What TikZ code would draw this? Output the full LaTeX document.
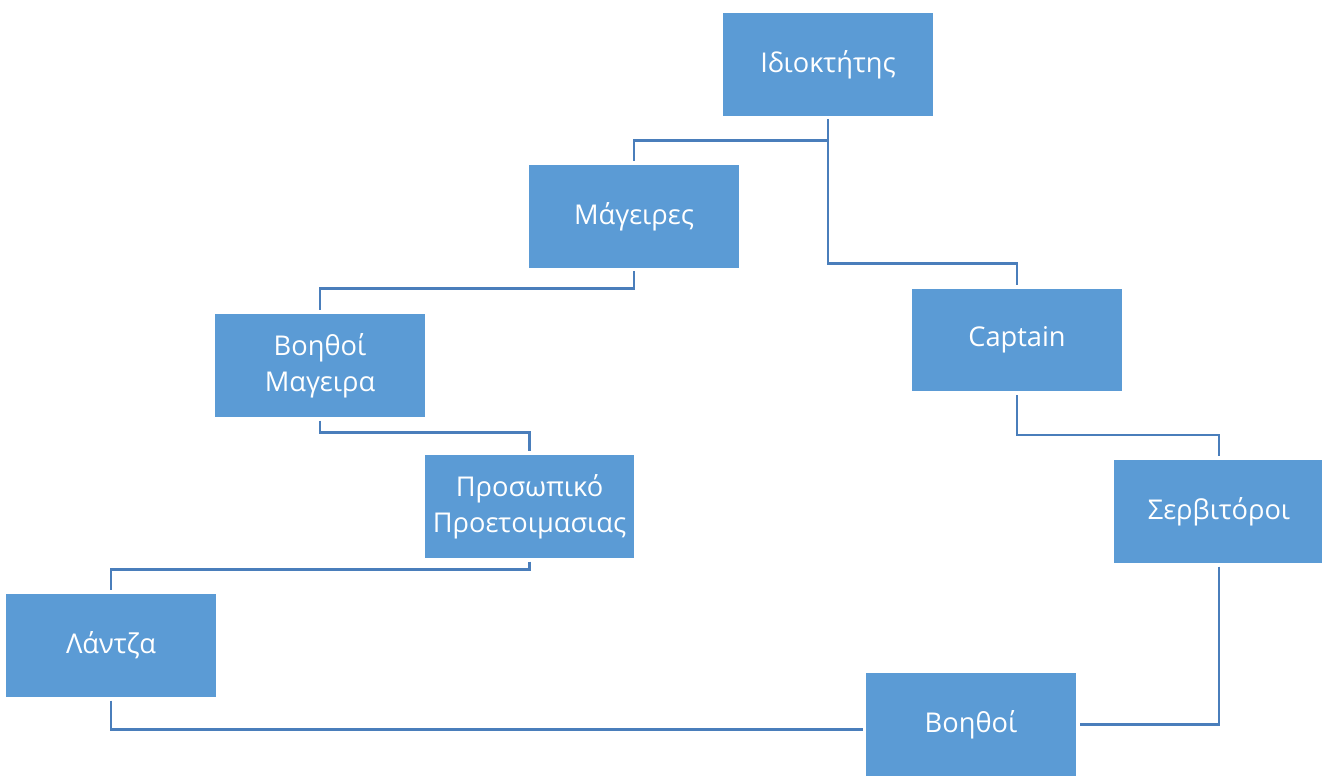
\documentclass[tikz,border=0pt]{standalone}
\usepackage{fontspec}
\setmainfont{Open Sans}
\usetikzlibrary{positioning}
\definecolor{boxblue}{HTML}{5B9BD5}
\definecolor{lineblue}{HTML}{4A7EBB}

\begin{document}
\begin{tikzpicture}[x=0.02cm, y=-0.02cm]

	\tikzstyle{role}=[rectangle, fill=boxblue, text=white, minimum width=4.2cm, minimum height=2.06cm, align=center, font=\fontsize{15.5}{20.5}\selectfont, outer sep=2pt]
	\tikzstyle{arc}=[lineblue, line width=1.6pt]

	\useasboundingbox (0,0) rectangle (1322,776);

	% placement des noeuds
	\node[role] 	(owner) at (828,64.5) 	{Ιδιοκτήτης};
	\node[role] 	(cooks) at (634,216.5) 	{Μάγειρες};
	\node[role] 	(captain) at (1017,340) 	{Captain};
	\node[role] 	(helpers) at (320,365.5) 	{Βοηθοί\\Μαγειρα};
	\node[role] 	(prep) at (529.5,506.5) 	{Προσωπικό\\Προετοιμασιας};
	\node[role] 	(waiters) at (1219,511.5) 	{Σερβιτόροι};
	\node[role] 	(sink) at (111,645.5) 	{Λάντζα};
	\node[role] 	(assist) at (971,724.5) 	{Βοηθοί};

	% liens
	\draw[arc] (owner.south) -- ++(0,21) -| (cooks.north);
	\draw[arc] (owner.south) -- ++(0,144) -| (captain.north);
	\draw[arc] (cooks.south) -- ++(0,17) -| (helpers.north);
	\draw[arc] (helpers.south) -- ++(0,12) -| (prep.north);
	\draw[arc] (prep.south) -- ++(0,8) -| (sink.north);
	\draw[arc] (sink.south) |- ([yshift=-3pt]assist.west);
	\draw[arc] (captain.south) -- ++(0,40) -| (waiters.north);
	\draw[arc] (waiters.south) |- (assist.east);

\end{tikzpicture}
\end{document}
